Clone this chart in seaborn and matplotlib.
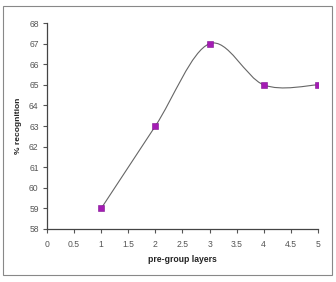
import numpy as np
import matplotlib
matplotlib.use("Agg")
import matplotlib.pyplot as plt
import seaborn as sns
import pandas as pd
from matplotlib.path import Path
from matplotlib.patches import PathPatch, Rectangle

layers = [1, 2, 3, 4, 5]
recognition = [59, 63, 67, 65, 65]
x_ticks = [0, 0.5, 1, 1.5, 2, 2.5, 3, 3.5, 4, 4.5, 5]
y_ticks = [58, 59, 60, 61, 62, 63, 64, 65, 66, 67, 68]

sns.set_theme(style="white")
plt.rcParams['font.family'] = ['Liberation Sans', 'DejaVu Sans']

fig = plt.figure(figsize=(3.36, 2.82), dpi=100)
ax = fig.add_axes([0.140, 0.188, 0.806, 0.730])

df = pd.DataFrame({"layers": layers, "rec": recognition})

# smoothed line (Bezier path through the data points, like a spreadsheet smoothed line)
pts = np.column_stack([layers, recognition]).astype(float)
n = len(pts)
verts = [tuple(pts[0])]
codes = [Path.MOVETO]
for i in range(n - 1):
    p0 = pts[i - 1] if i > 0 else pts[i]
    p1 = pts[i]
    p2 = pts[i + 1]
    p3 = pts[i + 2] if i + 2 < n else pts[i + 1]
    c1 = p1 + (p2 - p0) / 6.0
    c2 = p2 - (p3 - p1) / 6.0
    verts += [tuple(c1), tuple(c2), tuple(p2)]
    codes += [Path.CURVE4] * 3
ax.add_patch(PathPatch(Path(verts, codes), facecolor="none", edgecolor="#666666", lw=0.8, zorder=2))

sns.scatterplot(data=df, x="layers", y="rec", marker="s", s=13, color="#a41cb4",
                edgecolor="#801090", linewidth=0.4, ax=ax, zorder=3, legend=False)

ax.set_xlim(0, 5)
ax.set_ylim(58, 68)
ax.set_xticks(x_ticks)
ax.set_xticklabels([f"{t:g}" for t in x_ticks])
ax.set_yticks(y_ticks)
ax.set_yticklabels([str(t) for t in y_ticks])
ax.tick_params(axis="both", which="both", direction="out", length=3, width=0.8,
               colors="#555555", labelsize=6.2, pad=3, left=True, bottom=True)
ax.tick_params(axis="x", pad=5)
for s in ["top", "right"]:
    ax.spines[s].set_visible(False)
for s in ["left", "bottom"]:
    ax.spines[s].set_color("#444444")
    ax.spines[s].set_linewidth(0.9)
ax.set_xlabel("pre-group layers", fontsize=6.2, fontweight="bold", color="#222222", labelpad=4)
ax.set_ylabel("% recognition", fontsize=6.0, fontweight="bold", color="#222222", labelpad=5)

fig.patches.append(Rectangle((3/336, 7/282), 329/336, 269/282, transform=fig.transFigure,
                             fill=False, edgecolor="#888888", lw=0.8))

fig.savefig("out.png", dpi=100)
